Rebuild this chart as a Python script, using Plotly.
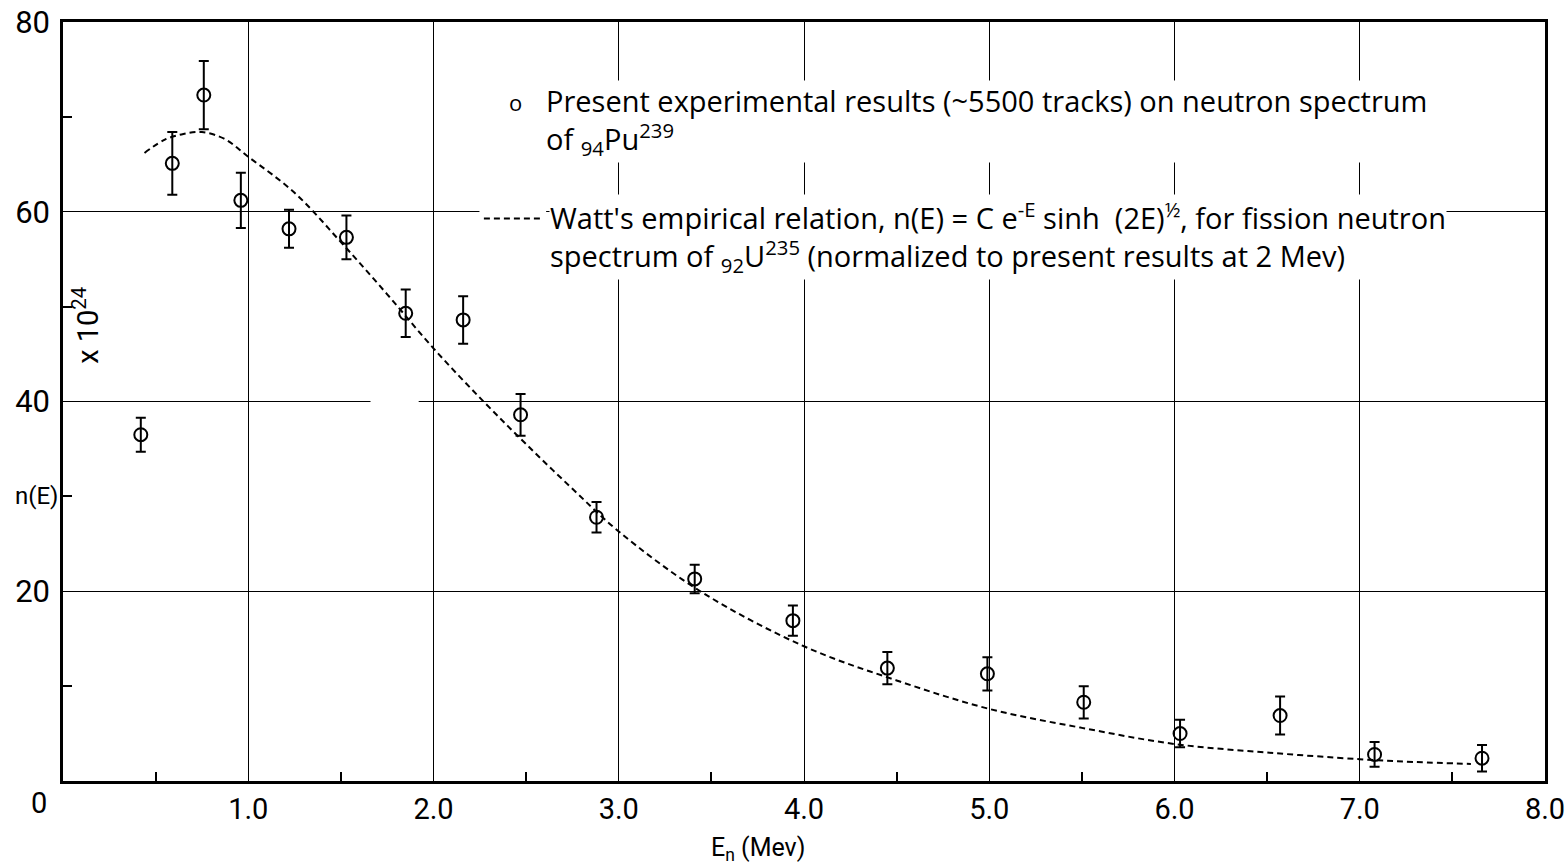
import plotly.graph_objects as go

# Experimental data points (Pu-239 neutron spectrum)
energy_mev = [0.42, 0.59, 0.76, 0.96, 1.22, 1.53, 1.85, 2.16, 2.47, 2.88,
              3.41, 3.94, 4.45, 4.99, 5.51, 6.03, 6.57, 7.08, 7.66]
n_values = [36.5, 65.1, 72.3, 61.2, 58.2, 57.3, 49.3, 48.6, 38.6, 27.8,
            21.3, 16.9, 11.9, 11.3, 8.3, 5.0, 6.9, 2.8, 2.4]
n_errors = [1.8, 3.3, 3.6, 2.9, 2.0, 2.3, 2.5, 2.5, 2.2, 1.6,
            1.5, 1.6, 1.7, 1.75, 1.7, 1.45, 2.0, 1.3, 1.4]

# Watt's empirical relation curve
watt_x = [0.44, 0.55, 0.65, 0.75, 0.87, 1.0, 1.25, 1.5, 1.75, 2.0, 2.27, 2.5,
          2.75, 3.0, 3.44, 4.0, 4.5, 5.0, 5.5, 6.0, 6.5, 7.0, 7.3, 7.6]
watt_y = [66.2, 67.6, 68.2, 68.4, 67.7, 65.8, 62.0, 56.8, 51.3, 45.6, 40.0, 35.5,
          30.8, 26.3, 20.0, 14.2, 10.6, 7.6, 5.6, 3.9, 3.0, 2.3, 2.0, 1.8]

x_tickvals = [1, 2, 3, 4, 5, 6, 7, 8]
x_ticktext = ["1.0", "2.0", "3.0", "4.0", "5.0", "6.0", "7.0", "8.0"]
y_tickvals = [20, 40, 60, 80]
y_ticktext = ["20", "40", "60", "80"]
x_minor = [0.5, 1.5, 2.5, 3.5, 4.5, 5.5, 6.5, 7.5]
y_minor = [10, 30, 50, 70]

FONT = "Roboto, Lato, 'DejaVu Sans', sans-serif"
LFONT = "'Open Sans', Roboto, sans-serif"

fig = go.Figure()

fig.add_trace(go.Scatter(
    x=watt_x, y=watt_y, mode="lines", line_shape="spline",
    line=dict(color="black", width=2, dash="6px,4px"),
    showlegend=False, hoverinfo="skip"))

fig.add_trace(go.Scatter(
    x=energy_mev, y=n_values, mode="markers",
    marker=dict(symbol="circle-open", size=13, color="black", line=dict(width=2, color="black")),
    error_y=dict(type="data", array=n_errors, visible=True, color="black", thickness=2, width=5),
    showlegend=False))

# gaps in gridline (as in the original drawing)
fig.add_shape(type="rect", xref="x", yref="y", x0=1.66, x1=1.92, y0=39.5, y1=40.5,
              fillcolor="white", line=dict(width=0), layer="between")

fig.update_xaxes(
    range=[0, 8], tickvals=x_tickvals, ticktext=x_ticktext, ticks="",
    showgrid=True, gridcolor="black", gridwidth=1.3,
    showline=True, linecolor="black", linewidth=2.5, mirror=True,
    tickfont=dict(family=FONT, size=29, color="black"), zeroline=False,
    automargin=False, ticklabeloverflow="allow",
    minor=dict(tickvals=x_minor, ticks="inside", ticklen=9, tickwidth=1.5, tickcolor="black", showgrid=False))
fig.update_yaxes(
    range=[0, 80], tickvals=y_tickvals, ticktext=y_ticktext, ticks="",
    showgrid=True, gridcolor="black", gridwidth=1.3,
    showline=True, linecolor="black", linewidth=2.5, mirror=True,
    tickfont=dict(family=FONT, size=31, color="black"), zeroline=False, ticklabelstandoff=4,
    automargin=False, ticklabeloverflow="allow",
    minor=dict(tickvals=y_minor, ticks="inside", ticklen=9, tickwidth=1.5, tickcolor="black", showgrid=False))

legend_font = dict(family=LFONT, size=29, color="black")
annotations = [
    dict(x=0.305, y=0.895, xref="paper", yref="paper", xanchor="center", yanchor="middle",
         text="o", showarrow=False, font=dict(family=LFONT, size=22, color="black"),
         bgcolor="white", borderpad=0),
    dict(x=0.325, y=0.869, xref="paper", yref="paper", xanchor="left", yanchor="middle", align="left",
         text="Present experimental results (~5500 tracks) on neutron spectrum<br>"
              "of <sub>94</sub>Pu<sup>239</sup>",
         showarrow=False, font=legend_font, bgcolor="white", borderpad=0),
    dict(x=0.328, y=0.717, xref="paper", yref="paper", xanchor="left", yanchor="middle", align="left",
         text="Watt's empirical relation, n(E) = C e<sup>-E</sup> sinh&nbsp; (2E)<sup>½</sup>, for fission neutron<br>"
              "spectrum of <sub>92</sub>U<sup>235</sup> (normalized to present results at 2 Mev)",
         showarrow=False, font=legend_font, bgcolor="white", borderpad=0),
    dict(x=0, y=30, xref="paper", yref="y", xanchor="right", yanchor="middle", xshift=-3,
         text="n(E)", showarrow=False, font=dict(family=FONT, size=24, color="black")),
    dict(x=0.12, y=48, xref="x", yref="y", xanchor="center", yanchor="middle",
         text="x 10<sup>24</sup>", textangle=-90, showarrow=False,
         font=dict(family=FONT, size=29, color="black")),
    dict(x=0, y=0, xref="paper", yref="paper", xanchor="center", yanchor="top", xshift=-24, yshift=-3,
         text="0", showarrow=False, font=dict(family=FONT, size=29, color="black")),
    dict(x=3.75, y=0, xref="x", yref="paper", xanchor="center", yanchor="top", yshift=-50,
         text="E<sub>n</sub> (Mev)", showarrow=False, font=dict(family=FONT, size=25, color="black")),
]

# legend key for the dashed curve (drawn as a white-backed dashed segment)
fig.add_shape(type="rect", xref="paper", yref="paper", x0=0.281, x1=0.326, y0=0.727, y1=0.755,
              fillcolor="white", line=dict(width=0), layer="above")
fig.add_shape(type="line", xref="paper", yref="paper", x0=0.284, x1=0.322, y0=0.741, y1=0.741,
              line=dict(color="black", width=2, dash="6px,4px"), layer="above")

fig.update_layout(
    width=1565, height=865,
    margin=dict(l=63, r=20, t=22, b=84),
    plot_bgcolor="white", paper_bgcolor="white",
    annotations=annotations,
    font=dict(family=FONT, color="black"),
)

fig.write_html("out.html")
